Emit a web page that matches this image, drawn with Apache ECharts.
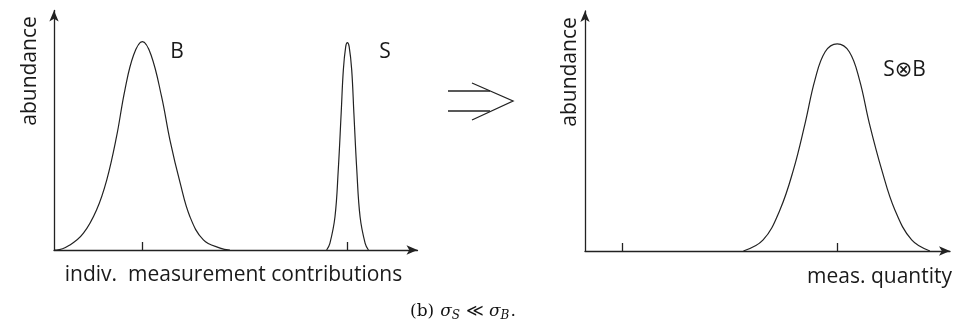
<!DOCTYPE html>
<html>
<head>
<meta charset="utf-8">
<script src="https://cdn.jsdelivr.net/npm/echarts@6/dist/echarts.min.js"></script>
<style>
html,body{margin:0;padding:0;background:#fff;}
#c{width:956px;height:326px;}
</style>
</head>
<body>
<div id="c"></div>
<script>
// ---- data (axis units 0..100 on each panel) ----
const bX = [0, 0.7, 4.4, 8.1, 11.7, 14.5, 17.2, 19.5, 21.9, 24.3, 26.7, 29.6, 31.9, 34.7, 37.4, 41.1, 45.7, 48.4];
const bY = [0, 0, 2.1, 7.0, 16.7, 29.2, 47.3, 66.8, 81.4, 87.0, 81.4, 64.0, 45.9, 28.0, 13.9, 4.2, 0.8, 0];
const sX = [75.0, 75.9, 77.3, 78.2, 79.0, 79.6, 80.25, 80.7, 81.2, 81.9, 82.5, 83.3, 84.2, 85.6, 86.5];
const sY = [0, 2.8, 13.9, 33.4, 57.1, 75.2, 84.9, 86.6, 84.9, 75.2, 57.1, 33.4, 13.9, 2.8, 0];
const sbX = [43.4, 48.8, 53.4, 57.1, 60.3, 63.0, 65.8, 69.1, 72.4, 75.2, 77.9, 81.3, 84.9, 89.5, 94.5];
const sbY = [0, 4.6, 17.1, 33.8, 53.2, 71.3, 83.0, 86.3, 83.0, 71.3, 53.2, 33.8, 17.1, 4.6, 0];
const leftTicks = [24.4, 80.8];
const rightTicks = [10.1, 69.0];
const labels = {
  yName: 'abundance',
  leftX: 'indiv.  measurement contributions',
  rightX: 'meas. quantity',
  b: 'B', s: 'S', sb: 'S\u2297B'
};

const pair = (xs, ys) => xs.map((x, i) => [x, ys[i]]);
const INK = '#222';
const FONT = '"Open Sans", "DejaVu Sans", sans-serif';
const SERIF = '"DejaVu Serif", "Liberation Serif", serif';

function xAxisDef(gi, ticks) {
  return {
    gridIndex: gi, type: 'value', min: 0, max: 100,
    axisLine: { show: true, onZero: false, symbol: ['none', 'arrow'], symbolSize: [7, 11],
      lineStyle: { color: INK, width: 1.3 } },
    axisTick: { show: true, inside: true, length: 8, customValues: ticks,
      lineStyle: { color: INK, width: 1.3 } },
    axisLabel: { show: false }, splitLine: { show: false }
  };
}
function yAxisDef(gi) {
  return {
    gridIndex: gi, type: 'value', min: 0, max: 100,
    axisLine: { show: true, onZero: false, symbol: ['none', 'arrow'], symbolSize: [7, 11],
      lineStyle: { color: INK, width: 1.3 } },
    axisTick: { show: false }, axisLabel: { show: false }, splitLine: { show: false }
  };
}
function curve(xi, yi, d) {
  return {
    type: 'line', xAxisIndex: xi, yAxisIndex: yi, data: d,
    smooth: 0.4, showSymbol: false, silent: true,
    lineStyle: { color: INK, width: 1.2 }, animation: false
  };
}
function txt(x, y, s, opt) {
  return Object.assign({
    type: 'text', x: x, y: y,
    style: { text: s, fill: '#1a1a1a', font: '21px ' + FONT, align: 'center', verticalAlign: 'middle' }
  }, opt || {});
}

const chart = echarts.init(document.getElementById('c'), null, { renderer: 'canvas' });
chart.setOption({
  animation: false,
  backgroundColor: '#fff',
  grid: [
    { left: 54, top: 10.5, width: 363.5, height: 239.5 },
    { left: 585, top: 11, width: 365, height: 240 }
  ],
  xAxis: [xAxisDef(0, leftTicks), xAxisDef(1, rightTicks)],
  yAxis: [yAxisDef(0), yAxisDef(1)],
  series: [
    curve(0, 0, pair(bX, bY)),
    curve(0, 0, pair(sX, sY)),
    curve(1, 1, pair(sbX, sbY))
  ],
  graphic: [
    txt(30, 71, labels.yName, { rotation: Math.PI / 2 }),
    txt(570, 72, labels.yName, { rotation: Math.PI / 2 }),
    txt(233.5, 275, labels.leftX),
    { type: 'text', x: 952, y: 277, style: { text: labels.rightX, fill: '#1a1a1a', font: '21px ' + FONT, align: 'right', verticalAlign: 'middle' } },
    txt(177, 52, labels.b),
    txt(385, 52, labels.s),
    txt(904.5, 70, labels.sb),
    { type: 'polyline', shape: { points: [[448, 91], [490, 91]] }, style: { stroke: INK, lineWidth: 1.3, fill: null } },
    { type: 'polyline', shape: { points: [[448, 111], [490, 111]] }, style: { stroke: INK, lineWidth: 1.3, fill: null } },
    { type: 'polyline', shape: { points: [[472, 83], [513, 101], [472, 120]] }, style: { stroke: INK, lineWidth: 1.3, fill: null } },
    {
      type: 'text', x: 410, y: 312,
      style: {
        text: '{r|(b)}{i|σ}{sub|S}{op|≪}{i|σ}{sub|B}{r|.}',
        align: 'left', verticalAlign: 'middle',
        rich: {
          r: { fontFamily: SERIF, fontSize: 17, fill: '#111', lineHeight: 20, padding: [0, 6, 0, 0] },
          i: { fontFamily: SERIF, fontSize: 17, fontStyle: 'italic', fill: '#111', lineHeight: 20 },
          op: { fontFamily: SERIF, fontSize: 17, fill: '#111', lineHeight: 20, padding: [0, 5, 0, 5] },
          sub: { fontFamily: SERIF, fontSize: 12, fontStyle: 'italic', fill: '#111', lineHeight: 20, padding: [7, 1, 0, 0] }
        }
      }
    }
  ]
});
</script>
</body>
</html>
